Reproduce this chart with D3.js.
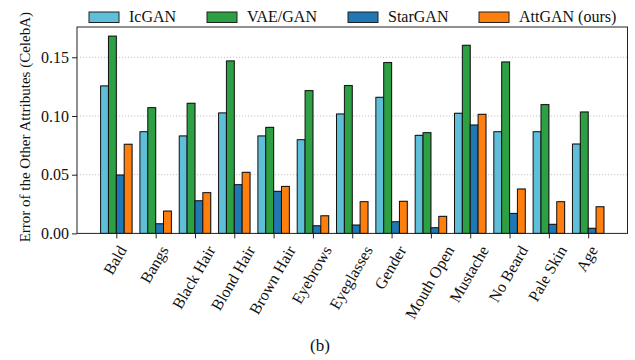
<!DOCTYPE html>
<html>
<head>
<meta charset="utf-8">
<script src="https://cdn.jsdelivr.net/npm/d3@7"></script>
<style>
  body { margin: 0; background: #fff; }
  svg text { font-family: "Liberation Serif", "Times New Roman", Times, "DejaVu Serif", serif; }
</style>
</head>
<body>
<div id="chart"></div>
<script>
// Attribute categories (x axis)
const attributes = ['Bald', 'Bangs', 'Black Hair', 'Blond Hair', 'Brown Hair', 'Eyebrows',
    'Eyeglasses', 'Gender', 'Mouth Open', 'Mustache', 'No Beard', 'Pale Skin', 'Age'];

// Methods (legend order)
const methods = ['IcGAN', 'VAE/GAN', 'StarGAN', 'AttGAN (ours)'];
const methodColors = ['#5fbfd8', '#2ca043', '#1f77b4', '#ff7f0e'];

// Error values, one array per method
const icganErr   = [0.1256, 0.0866, 0.0830, 0.1026, 0.0830, 0.0798, 0.1017, 0.1159, 0.0835, 0.1023, 0.0866, 0.0866, 0.0761];
const vaeganErr  = [0.1680, 0.1071, 0.1108, 0.1469, 0.0903, 0.1216, 0.1259, 0.1455, 0.0858, 0.1602, 0.1460, 0.1097, 0.1034];
const starganErr = [0.0497, 0.0082, 0.0278, 0.0415, 0.0358, 0.0065, 0.0071, 0.0099, 0.0048, 0.0923, 0.0170, 0.0077, 0.0043];
const attganErr  = [0.0759, 0.0190, 0.0347, 0.0520, 0.0400, 0.0150, 0.0270, 0.0273, 0.0145, 0.1014, 0.0378, 0.0270, 0.0227];

const yTicks = [0.00, 0.05, 0.10, 0.15];

const seriesValues = [icganErr, vaeganErr, starganErr, attganErr];

const FONT = '"Liberation Serif", "Times New Roman", Times, "DejaVu Serif", serif';
const width = 635, height = 360;
const plot = { left: 77, right: 627.5, top: 27, bottom: 233.4 };
const barW = 0.2;

const svg = d3.select('#chart').append('svg')
    .attr('width', width)
    .attr('height', height)
    .attr('font-family', FONT);

const x = d3.scaleLinear()
    .domain([-1, attributes.length])
    .range([plot.left, plot.right]);

const y = d3.scaleLinear()
    .domain([0, 0.1758])
    .range([plot.bottom, plot.top]);

// dotted grid lines
svg.append('g')
    .selectAll('line')
    .data(yTicks.filter(d => d > 0))
    .join('line')
    .attr('x1', plot.left)
    .attr('x2', plot.right)
    .attr('y1', d => y(d))
    .attr('y2', d => y(d))
    .attr('stroke', '#c4c4c4')
    .attr('stroke-width', 1)
    .attr('stroke-dasharray', '1.2,1.8');

// bars, one group per method
const bw = x(barW) - x(0);
seriesValues.forEach((vals, mi) => {
    const g = svg.append('g').attr('class', 'series');
    // faint shadow behind each bar
    g.selectAll('rect.shadow')
        .data(vals)
        .join('rect')
        .attr('class', 'shadow')
        .attr('x', (d, i) => x(i + (mi - 2) * barW) + 0.8)
        .attr('y', d => y(d) - 0.8)
        .attr('width', bw)
        .attr('height', d => y(0) - y(d))
        .attr('fill', '#888')
        .attr('opacity', 0.45);
    g.selectAll('rect.bar')
        .data(vals)
        .join('rect')
        .attr('class', 'bar')
        .attr('x', (d, i) => x(i + (mi - 2) * barW))
        .attr('y', d => y(d))
        .attr('width', bw)
        .attr('height', d => y(0) - y(d))
        .attr('fill', methodColors[mi])
        .attr('stroke', '#111')
        .attr('stroke-width', 1);
});

// frame
svg.append('rect')
    .attr('x', plot.left)
    .attr('y', plot.top)
    .attr('width', plot.right - plot.left)
    .attr('height', plot.bottom - plot.top)
    .attr('fill', 'none')
    .attr('stroke', '#222')
    .attr('stroke-width', 1);

// y axis
const yAxis = svg.append('g')
    .attr('transform', `translate(${plot.left},0)`)
    .call(d3.axisLeft(y).tickValues(yTicks).tickFormat(d3.format('.2f')).tickSize(5).tickPadding(3));
yAxis.attr('font-family', FONT).attr('font-size', 16);
yAxis.select('.domain').remove();
yAxis.selectAll('line').attr('stroke', '#222');
yAxis.selectAll('text').attr('fill', '#111');

// x axis ticks
const xAxis = svg.append('g')
    .attr('transform', `translate(0,${plot.bottom})`)
    .call(d3.axisBottom(x).tickValues(d3.range(attributes.length)).tickSize(5).tickFormat(''));
xAxis.select('.domain').remove();
xAxis.selectAll('line').attr('stroke', '#222');

// rotated tick labels, bounding box centred under the tick
const asc = 11, desc = 3;
const labels = svg.append('g')
    .selectAll('text')
    .data(attributes)
    .join('text')
    .attr('font-size', 16)
    .attr('fill', '#111')
    .attr('text-anchor', 'end')
    .text(d => d);
labels.each(function(d, i) {
    const L = this.getComputedTextLength();
    const ex = x(i) + 0.25 * L + 0.433 * (asc - desc);
    const ey = plot.bottom + 11 + 0.5 * asc;
    d3.select(this).attr('transform', `translate(${ex},${ey}) rotate(-60)`);
});

// y axis title
svg.append('text')
    .attr('transform', `translate(30,${(plot.top + plot.bottom) / 2 - 3}) rotate(-90)`)
    .attr('text-anchor', 'middle')
    .attr('font-size', 15)
    .attr('fill', '#111')
    .text('Error of the Other Attributes (CelebA)');

// legend above plot
const legendX = [89, 207, 348, 479];
const legend = svg.append('g');
methods.forEach((m, i) => {
    legend.append('rect')
        .attr('x', legendX[i])
        .attr('y', 12)
        .attr('width', 30)
        .attr('height', 10.5)
        .attr('fill', methodColors[i])
        .attr('stroke', '#222')
        .attr('stroke-width', 1);
    legend.append('text')
        .attr('x', legendX[i] + 40)
        .attr('y', 22)
        .attr('font-size', 16)
        .attr('fill', '#111')
        .text(m);
});

// caption
svg.append('text')
    .attr('x', 320)
    .attr('y', 351)
    .attr('text-anchor', 'middle')
    .attr('font-size', 17)
    .attr('fill', '#111')
    .text('(b)');
</script>
</body>
</html>
